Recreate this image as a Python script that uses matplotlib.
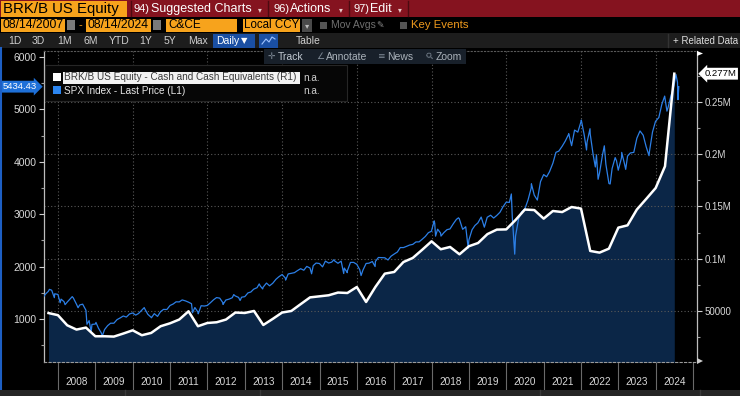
import matplotlib
matplotlib.use("Agg")
import matplotlib.pyplot as plt
import matplotlib.ticker as mticker
import matplotlib.dates as mdates
from matplotlib.patches import Rectangle, Polygon
from matplotlib.lines import Line2D
import pandas as pd

# ---------------- data ----------------
ticker_title = "BRK/B US Equity"
cash_label = "BRK/B US Equity - Cash and Cash Equivalents (R1)"
spx_label = "SPX Index - Last Price (L1)"
start_date = "08/14/2007"
end_date = "08/14/2024"

years = list(range(2008, 2025))

# Berkshire cash & equivalents, USD millions, quarter ends 2007Q3..2024Q2
cash_first_q = "2007Q3"
cash_last_q = "2024Q2"
cash_values = [
    48000, 46000, 36300, 32200, 34100, 25800, 25800, 25500, 28400, 31500,
    26800, 29000, 35400, 38200, 41800, 49700, 35400, 38500, 39200, 41800,
    48500, 48100, 50000, 36600, 42400, 48500, 50000, 56500, 63000, 64000,
    65000, 67600, 67200, 72900, 58600, 73000, 85700, 87300, 96800, 100700,
    108500, 116600, 109000, 111200, 104200, 111900, 115000, 123500, 127800, 128000,
    137000, 147000, 146500, 138300, 145600, 144600, 149400, 147900, 107400, 105800,
    109600, 129700, 131900, 147000, 157200, 167600, 188300, 276900,
]

spx_dates = [
    "2007-08-14", "2007-08-31", "2007-09-28", "2007-10-09", "2007-10-31", "2007-11-26", "2007-11-30", "2007-12-31",
    "2008-01-22", "2008-01-31", "2008-02-29", "2008-03-10", "2008-03-31", "2008-04-30", "2008-05-19", "2008-05-30",
    "2008-06-30", "2008-07-15", "2008-07-31", "2008-08-29", "2008-09-30", "2008-10-10", "2008-10-31", "2008-11-20",
    "2008-11-28", "2008-12-31", "2009-01-06", "2009-01-30", "2009-02-27", "2009-03-09", "2009-03-31", "2009-04-30",
    "2009-05-29", "2009-06-30", "2009-07-31", "2009-08-31", "2009-09-30", "2009-10-30", "2009-11-30", "2009-12-31",
    "2010-01-29", "2010-02-26", "2010-03-31", "2010-04-23", "2010-04-30", "2010-05-28", "2010-06-30", "2010-07-02",
    "2010-07-30", "2010-08-31", "2010-09-30", "2010-10-29", "2010-11-30", "2010-12-31", "2011-01-31", "2011-02-28",
    "2011-03-31", "2011-04-29", "2011-05-31", "2011-06-30", "2011-07-29", "2011-08-08", "2011-08-31", "2011-09-30",
    "2011-10-03", "2011-10-31", "2011-11-30", "2011-12-30", "2012-01-31", "2012-02-29", "2012-03-30", "2012-04-30",
    "2012-05-31", "2012-06-01", "2012-06-29", "2012-07-31", "2012-08-31", "2012-09-14", "2012-09-28", "2012-10-31",
    "2012-11-15", "2012-11-30", "2012-12-31", "2013-01-31", "2013-02-28", "2013-03-28", "2013-04-30", "2013-05-21",
    "2013-05-31", "2013-06-24", "2013-06-28", "2013-07-31", "2013-08-30", "2013-09-30", "2013-10-31", "2013-11-29",
    "2013-12-31", "2014-01-31", "2014-02-03", "2014-02-28", "2014-03-31", "2014-04-30", "2014-05-30", "2014-06-30",
    "2014-07-31", "2014-08-29", "2014-09-30", "2014-10-15", "2014-10-31", "2014-11-28", "2014-12-31", "2015-01-30",
    "2015-02-27", "2015-03-31", "2015-04-30", "2015-05-21", "2015-05-29", "2015-06-30", "2015-07-31", "2015-08-25",
    "2015-08-31", "2015-09-29", "2015-09-30", "2015-10-30", "2015-11-30", "2015-12-31", "2016-01-29", "2016-02-11",
    "2016-02-29", "2016-03-31", "2016-04-29", "2016-05-31", "2016-06-27", "2016-06-30", "2016-07-29", "2016-08-31",
    "2016-09-30", "2016-10-31", "2016-11-30", "2016-12-30", "2017-01-31", "2017-02-28", "2017-03-31", "2017-04-28",
    "2017-05-31", "2017-06-30", "2017-07-31", "2017-08-31", "2017-09-29", "2017-10-31", "2017-11-30", "2017-12-29",
    "2018-01-26", "2018-01-31", "2018-02-08", "2018-02-28", "2018-03-29", "2018-04-02", "2018-04-30", "2018-05-31",
    "2018-06-29", "2018-07-31", "2018-08-31", "2018-09-20", "2018-09-28", "2018-10-31", "2018-11-30", "2018-12-24",
    "2018-12-31", "2019-01-31", "2019-02-28", "2019-03-29", "2019-04-30", "2019-05-31", "2019-06-28", "2019-07-31",
    "2019-08-30", "2019-09-30", "2019-10-31", "2019-11-29", "2019-12-31", "2020-01-31", "2020-02-19", "2020-02-28",
    "2020-03-23", "2020-03-31", "2020-04-30", "2020-05-29", "2020-06-30", "2020-07-31", "2020-08-31", "2020-09-02",
    "2020-09-30", "2020-10-30", "2020-11-30", "2020-12-31", "2021-01-29", "2021-02-26", "2021-03-31", "2021-04-30",
    "2021-05-28", "2021-06-30", "2021-07-30", "2021-08-31", "2021-09-02", "2021-09-30", "2021-10-29", "2021-11-30",
    "2021-12-31", "2022-01-03", "2022-01-31", "2022-02-23", "2022-02-28", "2022-03-29", "2022-03-31", "2022-04-29",
    "2022-05-20", "2022-05-31", "2022-06-16", "2022-06-30", "2022-07-29", "2022-08-16", "2022-08-31", "2022-09-30",
    "2022-10-12", "2022-10-31", "2022-11-30", "2022-12-13", "2022-12-30", "2023-01-31", "2023-02-02", "2023-02-28",
    "2023-03-13", "2023-03-31", "2023-04-28", "2023-05-31", "2023-06-30", "2023-07-31", "2023-08-31", "2023-09-29",
    "2023-10-27", "2023-10-31", "2023-11-30", "2023-12-29", "2024-01-31", "2024-02-29", "2024-03-28", "2024-04-19",
    "2024-04-30", "2024-05-31", "2024-06-28", "2024-07-16", "2024-07-31", "2024-08-05", "2024-08-13",
]
spx_values = [
    1426.5, 1473.99, 1526.75, 1565.15, 1549.38, 1407.22, 1481.14, 1468.36,
    1310.50, 1378.55, 1330.63, 1273.37, 1322.70, 1385.59, 1426.63, 1400.38,
    1280.00, 1214.91, 1267.38, 1282.83, 1166.36, 899.22, 968.75, 752.44,
    896.24, 903.25, 934.70, 825.88, 735.09, 676.53, 797.87, 872.81,
    919.14, 919.32, 987.48, 1020.62, 1057.08, 1036.19, 1095.63, 1115.10,
    1073.87, 1104.49, 1169.43, 1217.28, 1186.69, 1089.41, 1030.71, 1022.58,
    1101.60, 1049.33, 1141.20, 1183.26, 1180.55, 1257.64, 1286.12, 1327.22,
    1325.83, 1363.61, 1345.20, 1320.64, 1292.28, 1119.46, 1218.89, 1131.42,
    1099.23, 1253.30, 1246.96, 1257.60, 1312.41, 1365.68, 1408.47, 1397.91,
    1310.33, 1278.04, 1362.16, 1379.32, 1406.58, 1465.77, 1440.67, 1412.16,
    1353.33, 1416.18, 1426.19, 1498.11, 1514.68, 1569.19, 1597.57, 1669.16,
    1630.74, 1573.09, 1606.28, 1685.73, 1632.97, 1681.55, 1756.54, 1805.81,
    1848.36, 1782.59, 1741.89, 1859.45, 1872.34, 1883.95, 1923.57, 1960.23,
    1930.67, 2003.37, 1972.29, 1862.49, 2018.05, 2067.56, 2058.90, 1994.99,
    2104.50, 2067.89, 2085.51, 2130.82, 2107.39, 2063.11, 2103.84, 1867.61,
    1972.18, 1884.09, 1920.03, 2079.36, 2080.41, 2043.94, 1940.24, 1829.08,
    1932.23, 2059.74, 2065.30, 2096.95, 2000.54, 2098.86, 2173.60, 2170.95,
    2168.27, 2126.15, 2198.81, 2238.83, 2278.87, 2363.64, 2362.72, 2384.20,
    2411.80, 2423.41, 2470.30, 2471.65, 2519.36, 2575.26, 2647.58, 2673.61,
    2872.87, 2823.81, 2581.00, 2713.83, 2640.87, 2581.88, 2648.05, 2705.27,
    2718.37, 2816.29, 2901.52, 2930.75, 2913.98, 2711.74, 2760.17, 2351.10,
    2506.85, 2704.10, 2784.49, 2834.40, 2945.83, 2752.06, 2941.76, 2980.38,
    2926.46, 2976.74, 3037.56, 3140.98, 3230.78, 3225.52, 3386.15, 2954.22,
    2237.40, 2584.59, 2912.43, 3044.31, 3100.29, 3271.12, 3500.31, 3580.84,
    3363.00, 3269.96, 3621.63, 3756.07, 3714.24, 3811.15, 3972.89, 4181.17,
    4204.11, 4297.50, 4395.26, 4522.68, 4536.95, 4307.54, 4605.38, 4567.00,
    4766.18, 4796.56, 4515.55, 4225.50, 4373.94, 4631.60, 4530.41, 4131.93,
    3901.36, 4132.15, 3666.77, 3785.38, 4130.29, 4305.20, 3955.00, 3585.62,
    3577.03, 3871.98, 4080.11, 4019.65, 3839.50, 4076.60, 4179.76, 3970.15,
    3855.76, 4109.31, 4169.48, 4179.83, 4450.38, 4588.96, 4507.66, 4288.05,
    4117.37, 4193.80, 4567.80, 4769.83, 4845.65, 5096.27, 5254.35, 4967.23,
    5035.69, 5277.51, 5460.48, 5667.20, 5522.30, 5186.33, 5434.43,
]

cash_dates = pd.period_range(cash_first_q, cash_last_q, freq="Q").to_timestamp(how="end").normalize()
spx_dt = pd.to_datetime(spx_dates)

# ---------------- style ----------------
FONT = ["Liberation Sans", "DejaVu Sans"]
plt.rcParams["font.family"] = FONT

W, H = 740, 396
fig = plt.figure(figsize=(7.4, 3.96), dpi=100, facecolor="black")


def fx(x):
    return x / W


def fy(y):
    return 1 - y / H


def rect(x0, y0, x1, y1, color, ec="none", lw=0, z=0):
    fig.patches.append(Rectangle((fx(x0), fy(y1)), (x1 - x0) / W, (y1 - y0) / H,
                                 transform=fig.transFigure, facecolor=color,
                                 edgecolor=ec, lw=lw, zorder=z))


def txt(x, y, s, color="white", size=8, ha="left", va="center", z=5, **kw):
    fig.text(fx(x), fy(y), s, color=color, fontsize=size, ha=ha, va=va, zorder=z, **kw)


def vline(x, y0, y1, color, lw=1.0, z=1):
    fig.lines.append(Line2D([fx(x), fx(x)], [fy(y0), fy(y1)], transform=fig.transFigure,
                            color=color, lw=lw, zorder=z))


SYM = ["DejaVu Sans"]

# ---------------- header ----------------
RED = "#85131f"
ORANGE = "#f7a31c"
rect(0, 0, 740, 17, RED)
rect(0.5, 1, 127, 16.5, ORANGE)
txt(3, 9, ticker_title, color="black", size=10.8)
for xs in (131, 268, 349, 408):
    vline(xs, 1, 16, "#4c0a10", lw=1)
txt(134, 9, "94)", size=8)
txt(151, 9, "Suggested Charts", size=9)
txt(258, 10, "\u25be", size=5.5, color="#e8c8c8", family=SYM)
txt(273, 9, "96)", size=8)
txt(290, 9, "Actions", size=9)
txt(339, 10, "\u25be", size=5.5, color="#e8c8c8", family=SYM)
txt(353, 9, "97)", size=8)
txt(370, 9, "Edit", size=9)
txt(398, 10, "\u25be", size=5.5, color="#e8c8c8", family=SYM)

# row 2
rect(0, 17, 740, 33, "black")
rect(1, 19, 65, 31.5, ORANGE)
txt(2.5, 25.5, start_date, color="black", size=8.8)
rect(67, 20, 75, 30, "#7a7a7a")
txt(80, 25.5, "-", color=ORANGE, size=8, ha="center")
rect(86, 19, 151, 31.5, ORANGE)
txt(87.5, 25.5, end_date, color="black", size=8.8)
rect(153, 20, 161, 30, "#7a7a7a")
rect(166, 19, 237, 31.5, ORANGE)
txt(168, 25.5, "C&CE", color="black", size=8.5)
rect(243, 19, 300, 31.5, ORANGE)
txt(244, 25.5, "Local CCY", color="black", size=8.3)
rect(302, 19, 312, 31.5, "#4a4a4a")
txt(307, 25.5, "\u25be", color="#bbbbbb", size=6, ha="center", family=SYM)
rect(320, 21.5, 327, 29, "#555555")
txt(331, 25.5, "Mov Avgs", color="#6f6f6f", size=7.5)
txt(376, 25.5, "\u270e", color="#8a8a8a", size=6.5, family=SYM)
rect(400, 21.5, 407, 29, "#555555")
txt(411, 25.5, "Key Events", color="#ef9a1d", size=8.2)

# row 3
rect(0, 33, 740, 48, "#1d1d1d")
for xs, lab in [(8, "1D"), (32, "3D"), (57, "1M"), (83, "6M"), (109, "YTD"),
                (139, "1Y"), (164, "5Y"), (188, "Max")]:
    txt(xs, 41, lab, color="#cfcfcf", size=7.5)
rect(213, 34, 255, 47.5, "#1a4fa3")
txt(216, 41, "Daily", color="white", size=7.5)
txt(241, 41, "\u25bc", color="white", size=6, family=SYM)
rect(259, 34, 278, 47.5, "#1a4fa3")
fig.lines.append(Line2D([fx(262), fx(266), fx(269), fx(272), fx(275)],
                        [fy(44), fy(39), fy(42), fy(37), fy(39)],
                        transform=fig.transFigure, color="#9fc3ff", lw=0.8, zorder=3))
txt(296, 41, "Table", color="#cfcfcf", size=7.5)
vline(668, 34, 47, "#333333")
txt(673, 41, "+ Related Data", color="#dddddd", size=7)

# ---------------- chart axes ----------------
pos = [fx(44), fy(362), (697 - 44) / W, (362 - 51) / H]
xmin, xmax = pd.Timestamp("2007-08-17"), pd.Timestamp("2025-02-07")

ax_c = fig.add_axes(pos)               # cash fill, grid, right axis
ax_s = fig.add_axes(pos, sharex=ax_c)  # SPX line, left axis
ax_w = fig.add_axes(pos, sharex=ax_c)  # cash white line on top

ax_c.set_zorder(1)
ax_s.set_zorder(2)
ax_w.set_zorder(3)
ax_c.set_facecolor("black")
ax_s.patch.set_visible(False)
ax_w.patch.set_visible(False)

CASH_YLIM = (1200, 298600)
SPX_YLIM = (179, 6115)

ax_c.fill_between(cash_dates, 0, cash_values, color="#0b2647", lw=0, zorder=1)
ax_c.set_xlim(xmin, xmax)
ax_c.set_ylim(*CASH_YLIM)

ax_s.plot(spx_dt, spx_values, color="#2c7fe6", lw=0.9, zorder=2)
ax_s.set_ylim(*SPX_YLIM)

ax_w.plot(cash_dates, cash_values, color="white", lw=1.8, zorder=3,
          solid_joinstyle="round")
ax_w.set_ylim(*CASH_YLIM)
ax_w.axis("off")

# right axis (cash)
ax_c.yaxis.tick_right()
ax_c.yaxis.set_major_locator(mticker.MultipleLocator(50000))
ax_c.yaxis.set_minor_locator(mticker.MultipleLocator(25000))


def cash_fmt(v, p):
    if v < 100000:
        return f"{int(v)}"
    return f"{v / 1e6:g}M"


ax_c.yaxis.set_major_formatter(mticker.FuncFormatter(cash_fmt))
ax_c.yaxis.grid(True, which="major", color="#595959", ls=(0, (1, 2)), lw=0.8)
for yr in range(2008, 2025, 2):
    ax_c.axvline(pd.Timestamp(f"{yr}-01-01"), color="#595959", ls=(0, (1, 2)), lw=0.8, zorder=0.5)

# x axis
ax_c.xaxis.set_major_locator(mdates.YearLocator(1))
ax_c.xaxis.set_major_formatter(mticker.NullFormatter())
ax_c.xaxis.set_minor_locator(mticker.FixedLocator(
    [mdates.date2num(pd.Timestamp(f"{y}-07-02")) for y in years]))
ax_c.xaxis.set_minor_formatter(mdates.DateFormatter("%Y"))
ax_c.tick_params(axis="x", which="major", direction="out", length=20, color="#6a6a6a", width=0.8)
ax_c.tick_params(axis="x", which="minor", length=0, pad=10.5, labelsize=7.2, labelcolor="#d8d8d8")

ax_c.tick_params(axis="y", which="major", direction="out", length=3.5, color="#d0d0d0",
                 width=0.8, labelsize=7, labelcolor="#d8d8d8", pad=2)
ax_c.tick_params(axis="y", which="minor", direction="out", length=2.5, color="#a0a0a0", width=0.8)

# left axis (SPX)
ax_s.yaxis.tick_left()
ax_s.yaxis.set_major_locator(mticker.MultipleLocator(1000))
ax_s.yaxis.set_minor_locator(mticker.MultipleLocator(500))
ax_s.yaxis.set_major_formatter(mticker.FuncFormatter(lambda v, p: f"{int(v)}"))
ax_s.tick_params(axis="y", which="major", direction="out", length=3.5, color="#d0d0d0",
                 width=0.8, labelsize=7.5, labelcolor="#d8d8d8", pad=2)
ax_s.tick_params(axis="y", which="minor", direction="out", length=2.5, color="#a0a0a0", width=0.8)
ax_s.tick_params(axis="x", which="both", bottom=False, labelbottom=False)

for s in ax_s.spines.values():
    s.set_visible(False)
ax_c.spines["left"].set_color("#bdbdbd")
ax_c.spines["right"].set_color("#bdbdbd")
ax_c.spines["left"].set_linewidth(0.9)
ax_c.spines["right"].set_linewidth(0.9)
ax_c.spines["top"].set_color("#595959")
ax_c.spines["top"].set_linestyle((0, (1, 2)))
ax_c.spines["bottom"].set_color("#9a9a9a")
ax_c.spines["bottom"].set_linestyle((0, (2, 2)))
ax_c.spines["bottom"].set_linewidth(0.8)

# price tags
ax_s.annotate(f"{spx_values[-1]:.2f}", xy=(0, spx_values[-1]), xycoords=("axes fraction", "data"),
              xytext=(-5.5, 0), textcoords="offset points", ha="right", va="center",
              color="white", fontsize=6.8, annotation_clip=False, zorder=10,
              bbox=dict(boxstyle="rarrow,pad=0.15", fc="#1e70d8", ec="none"))
ax_w.annotate(f"{cash_values[-1] / 1e6:.3f}M", xy=(1, cash_values[-1]), xycoords=("axes fraction", "data"),
              xytext=(5.5, 0), textcoords="offset points", ha="left", va="center",
              color="black", fontsize=6.8, annotation_clip=False, zorder=10,
              bbox=dict(boxstyle="larrow,pad=0.15", fc="white", ec="none"))

# ---------------- overlays (figure level, above axes) ----------------
# axis end flags
fig.patches.append(Polygon([[fx(697), fy(51)], [fx(703), fy(53.5)], [fx(697), fy(56)]],
                           closed=True, transform=fig.transFigure, fc="white", ec="none", zorder=20))
fig.patches.append(Polygon([[fx(697), fy(358)], [fx(703), fy(361)], [fx(697), fy(364)]],
                           closed=True, transform=fig.transFigure, fc="#cccccc", ec="none", zorder=20))

# chart tool bar
rect(264, 49, 466, 64, "#18202a", z=20)
txt(268, 56.5, "\u271b", color="#7f8a96", size=6.5, z=21, family=SYM)
txt(278, 56.5, "Track", color="#c2cad2", size=7.5, z=21)
txt(316, 56.5, "\u2220", color="#7f8a96", size=6.5, z=21, family=SYM)
txt(326, 56.5, "Annotate", color="#aab2ba", size=7.5, z=21)
txt(377, 56.5, "\u2261", color="#7f8a96", size=6.5, z=21, family=SYM)
txt(387, 56.5, "News", color="#aab2ba", size=7.5, z=21)
txt(425, 56.5, "\u26b2", color="#7f8a96", size=6.5, z=21, family=SYM, rotation=45)
txt(436, 56.5, "Zoom", color="#aab2ba", size=7.5, z=21)

# legend
rect(45, 65, 347, 101, "#060606", ec="#262626", lw=0.8, z=20)
rect(53, 73, 61, 81, "white", z=21)
rect(63, 71.5, 300, 83.5, "#f2f2f2", z=21)
txt(64, 77.5, cash_label, color="#3a3a3a", size=7.2, z=22)
txt(303, 78, "n.a.", color="#cfcfcf", size=7.2, z=22)
rect(53, 86, 61, 94, "#2c86f0", z=21)
txt(64, 90.5, spx_label, color="#e6e6e6", size=7.2, z=22)
txt(303, 91, "n.a.", color="#cfcfcf", size=7.2, z=22)

# window borders / bottom strip
vline(1, 48, 390, "#1d5fc4", lw=1.5, z=20)
rect(0, 390, 740, 396, "#262626", z=20)
for xs in (125, 260, 540, 700):
    vline(xs, 390, 396, "#3a3a3a", lw=1, z=21)

fig.savefig("out.png", dpi=100, facecolor="black")
